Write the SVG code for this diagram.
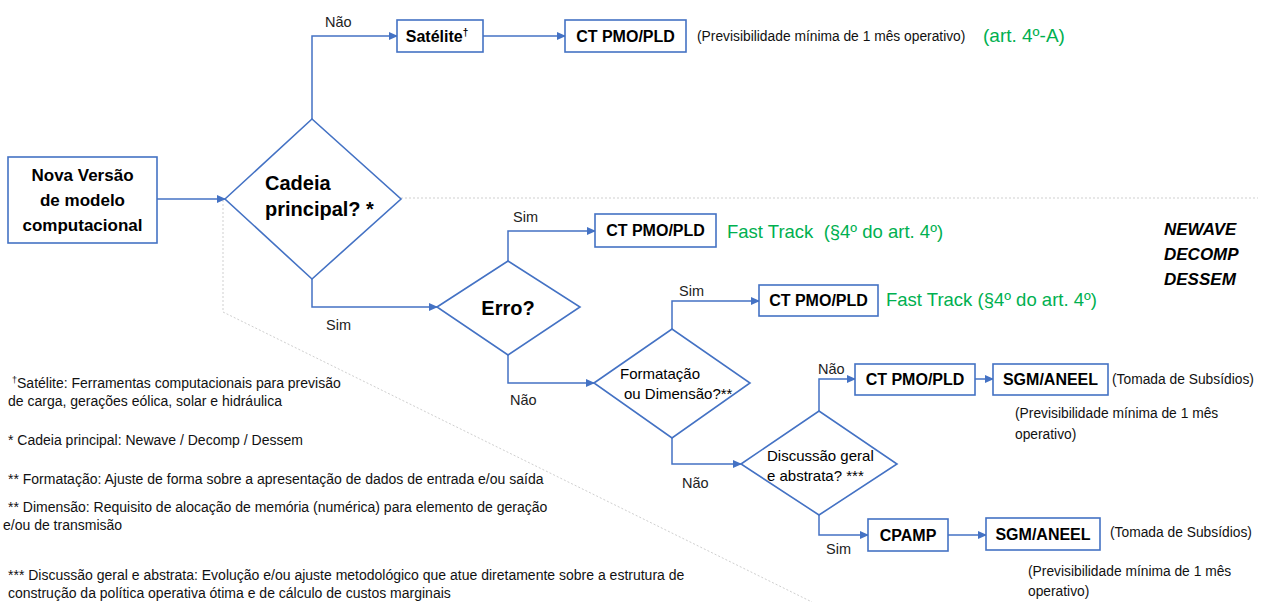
<svg xmlns="http://www.w3.org/2000/svg" width="1264" height="602" viewBox="0 0 1264 602">
<defs>
<marker id="ah" markerUnits="userSpaceOnUse" markerWidth="9" markerHeight="8" refX="8" refY="4" orient="auto">
<path d="M0,0 L9,4 L0,8 Z" fill="#4472C4"/>
</marker>
<style>
.box{fill:#fff;stroke:#4472C4;stroke-width:1.6}
.dia{fill:#fff;stroke:#4472C4;stroke-width:1.6}
.con{fill:none;stroke:#4472C4;stroke-width:1.5;marker-end:url(#ah)}
.guide{fill:none;stroke:#cfcfcf;stroke-width:1;stroke-dasharray:2 2}
text{font-family:"Liberation Sans",Arial,sans-serif;fill:#000}
.bt{font-weight:bold;font-size:16px;text-anchor:middle}
.lbl{font-size:14.5px;fill:#222}
.dt{font-size:15px}
.note{font-size:13.8px;fill:#111}
.green{fill:#00B050}
.fn{font-size:14px;fill:#111}
.mod{font-weight:bold;font-style:italic;font-size:17px}
</style>
</defs>

<g id="guides">
<polyline class="guide" points="401,198 1258,198"/>
<polyline class="guide" points="223,200 223,312 812,602"/>
</g>

<g id="connectors">
<line class="con" x1="157" y1="199" x2="225" y2="199"/>
<polyline class="con" points="312,119 312,36 397,36"/>
<line class="con" x1="483" y1="36" x2="565" y2="36"/>
<polyline class="con" points="312,279 312,307 437,307"/>
<polyline class="con" points="508,261 508,231 595,231"/>
<polyline class="con" points="508,355 508,383 594,383"/>
<polyline class="con" points="672,329 672,301 759,301"/>
<polyline class="con" points="672,438 672,464 741,464"/>
<polyline class="con" points="819,411 819,379 855,379"/>
<line class="con" x1="975" y1="379" x2="993" y2="379"/>
<polyline class="con" points="819,515 819,535 868,535"/>
<line class="con" x1="948" y1="535" x2="986" y2="535"/>
<text class="lbl" x="325" y="27">Não</text>
<text class="lbl" x="326" y="330">Sim</text>
<text class="lbl" x="513" y="222">Sim</text>
<text class="lbl" x="510" y="405">Não</text>
<text class="lbl" x="679" y="296">Sim</text>
<text class="lbl" x="682" y="488">Não</text>
<text class="lbl" x="818" y="374">Não</text>
<text class="lbl" x="826" y="554">Sim</text>
</g>

<g id="nova">
<rect class="box" x="8" y="157" width="149" height="86"/>
<text class="bt" style="font-size:17px" x="82.5" y="181">Nova Versão</text>
<text class="bt" style="font-size:17px" x="82.5" y="206">de modelo</text>
<text class="bt" style="font-size:17px" x="82.5" y="231">computacional</text>
</g>

<g id="cadeia">
<polygon class="dia" points="225,199 312,119 401,199 312,279"/>
<text style="font-weight:bold;font-size:20px" x="265" y="190">Cadeia</text>
<text style="font-weight:bold;font-size:20px" x="265" y="216">principal? *</text>
</g>

<g id="satelite">
<rect class="box" x="397" y="20" width="86" height="32"/>
<text class="bt" x="437" y="42">Satélite<tspan font-size="10" dy="-6">†</tspan></text>
</g>

<g id="ct1">
<rect class="box" x="565" y="20" width="121" height="32"/>
<text class="bt" x="625.5" y="42">CT PMO/PLD</text>
<text class="note" x="697" y="41">(Previsibilidade mínima de 1 mês operativo)</text>
<text class="green" style="font-size:19px" x="983" y="42">(art. 4º-A)</text>
</g>

<g id="erro">
<polygon class="dia" points="437,307 508,261 580,307 508,355"/>
<text style="font-weight:bold;font-size:20px;text-anchor:middle" x="508" y="315">Erro?</text>
</g>

<g id="ct2">
<rect class="box" x="595" y="214" width="121" height="33"/>
<text class="bt" x="655.5" y="236">CT PMO/PLD</text>
<text class="green" style="font-size:18.5px" x="727" y="238">Fast Track&#160; (§4º do art. 4º)</text>
</g>

<g id="formatacao">
<polygon class="dia" points="594,383 672,329 750,383 672,438"/>
<text class="dt" x="620" y="379">Formatação</text>
<text class="dt" x="624" y="399">ou Dimensão?**</text>
</g>

<g id="ct3">
<rect class="box" x="759" y="285" width="119" height="31"/>
<text class="bt" x="818.5" y="306">CT PMO/PLD</text>
<text class="green" style="font-size:18.5px" x="886" y="306">Fast Track (§4º do art. 4º)</text>
</g>

<g id="discussao">
<polygon class="dia" points="741,464 819,411 897,464 819,515"/>
<text class="dt" x="767" y="461">Discussão geral</text>
<text class="dt" x="767" y="481">e abstrata? ***</text>
</g>

<g id="ct4">
<rect class="box" x="855" y="364" width="120" height="31"/>
<text class="bt" x="915" y="385">CT PMO/PLD</text>
</g>

<g id="sgm1">
<rect class="box" x="993" y="364" width="115" height="31"/>
<text class="bt" x="1050.5" y="385">SGM/ANEEL</text>
<text class="note" x="1112" y="384">(Tomada de Subsídios)</text>
<text class="note" x="1015" y="418">(Previsibilidade mínima de 1 mês</text>
<text class="note" x="1015" y="439">operativo)</text>
</g>

<g id="cpamp">
<rect class="box" x="868" y="519" width="80" height="32"/>
<text class="bt" x="908" y="541">CPAMP</text>
</g>

<g id="sgm2">
<rect class="box" x="986" y="518" width="114" height="32"/>
<text class="bt" x="1043" y="540">SGM/ANEEL</text>
<text class="note" x="1110" y="537">(Tomada de Subsídios)</text>
<text class="note" x="1028" y="576">(Previsibilidade mínima de 1 mês</text>
<text class="note" x="1028" y="596">operativo)</text>
</g>

<g id="modelos">
<text class="mod" x="1164" y="235">NEWAVE</text>
<text class="mod" x="1164" y="260">DECOMP</text>
<text class="mod" x="1164" y="285">DESSEM</text>
</g>

<g id="notas">
<text class="fn" x="12" y="388"><tspan font-size="9" dy="-5">†</tspan><tspan dy="5">Satélite: Ferramentas computacionais para previsão</tspan></text>
<text class="fn" x="8" y="406">de carga, gerações eólica, solar e hidráulica</text>
<text class="fn" x="8" y="445">* Cadeia principal: Newave / Decomp / Dessem</text>
<text class="fn" x="8" y="484">** Formatação: Ajuste de forma sobre a apresentação de dados de entrada e/ou saída</text>
<text class="fn" x="8" y="512">** Dimensão: Requisito de alocação de memória (numérica) para elemento de geração</text>
<text class="fn" x="3" y="530">e/ou de transmisão</text>
<text class="fn" x="8" y="580">*** Discussão geral e abstrata: Evolução e/ou ajuste metodológico que atue diretamente sobre a estrutura de</text>
<text class="fn" x="8" y="598">construção da política operativa ótima e de cálculo de custos marginais</text>
</g>
</svg>
